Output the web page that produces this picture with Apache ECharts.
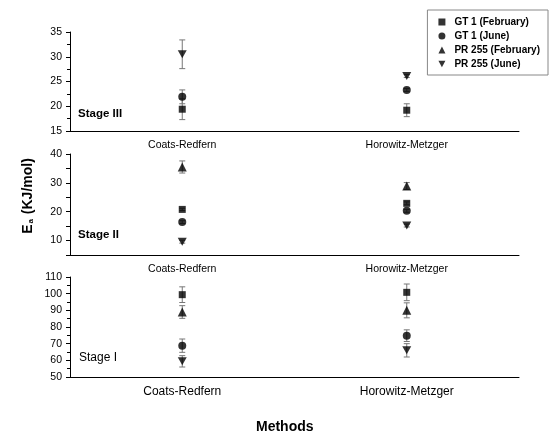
<!DOCTYPE html>
<html>
<head>
<meta charset="utf-8">
<script src="https://cdn.jsdelivr.net/npm/echarts@6/dist/echarts.min.js"></script>
<style>html,body{margin:0;padding:0;background:#fff}#c{width:555px;height:437px}</style>
</head>
<body>
<div id="c"></div>
<script>
// ---- data ----
var categories = ['Coats-Redfern', 'Horowitz-Metzger'];
var seriesNames = ['GT 1 (February)', 'GT 1 (June)', 'PR 255 (February)', 'PR 255 (June)'];
var stageLabels = ['Stage III', 'Stage II', 'Stage I'];

// Stage III (top panel)
var s3_gt1Feb = [19.4, 19.2];   var s3_gt1Feb_err = [2.1, 1.3];
var s3_gt1Jun = [21.9, 23.3];   var s3_gt1Jun_err = [1.4, 0.3];
var s3_pr255Feb = [null, null]; var s3_pr255Feb_err = [0, 0];
var s3_pr255Jun = [30.5, 26.1]; var s3_pr255Jun_err = [2.9, 0.3];

// Stage II (middle panel)
var s2_gt1Feb = [20.8, 22.9];   var s2_gt1Feb_err = [0.4, 0.5];
var s2_gt1Jun = [16.4, 20.3];   var s2_gt1Jun_err = [0.5, 0.5];
var s2_pr255Feb = [35.5, 28.9]; var s2_pr255Feb_err = [2.1, 1.2];
var s2_pr255Jun = [9.6, 15.2];  var s2_pr255Jun_err = [0.5, 0.5];

// Stage I (bottom panel)
var s1_gt1Feb = [99.4, 100.8];  var s1_gt1Feb_err = [4.7, 5.0];
var s1_gt1Jun = [68.8, 74.8];   var s1_gt1Jun_err = [4.0, 3.5];
var s1_pr255Feb = [89.0, 90.0]; var s1_pr255Feb_err = [3.8, 4.5];
var s1_pr255Jun = [59.4, 66.0]; var s1_pr255Jun_err = [3.4, 4.0];

// y-axis ranges / tick labels
var yMin = [15, 5, 50];
var yMax = [35, 40, 110];
var yInterval = [5, 5, 10];
var yLabelEvery = [5, 10, 10];

// ---- build ----
var panels = [
  {vals: [s3_gt1Feb, s3_gt1Jun, s3_pr255Feb, s3_pr255Jun], errs: [s3_gt1Feb_err, s3_gt1Jun_err, s3_pr255Feb_err, s3_pr255Jun_err]},
  {vals: [s2_gt1Feb, s2_gt1Jun, s2_pr255Feb, s2_pr255Jun], errs: [s2_gt1Feb_err, s2_gt1Jun_err, s2_pr255Feb_err, s2_pr255Jun_err]},
  {vals: [s1_gt1Feb, s1_gt1Jun, s1_pr255Feb, s1_pr255Jun], errs: [s1_gt1Feb_err, s1_gt1Jun_err, s1_pr255Feb_err, s1_pr255Jun_err]}
];
var symbols = ['rect', 'circle', 'triangle', 'path://M0,0 L10,0 L5,9 Z'];
var symbolSizes = [7, 8, 9, [9, 8]];
var FONT = 'Liberation Sans, Arial, sans-serif';

var grids = [
  {left: 70, right: 36, top: 32, height: 99},
  {left: 70, right: 36, top: 154, height: 101},
  {left: 70, right: 36, top: 277, height: 100}
];
var catFont = [10.5, 10.5, 12];

var xAxes = [], yAxes = [], series = [];
for (var p = 0; p < 3; p++) {
  xAxes.push({
    type: 'category', gridIndex: p, data: categories, boundaryGap: true,
    axisLine: {lineStyle: {color: '#000', width: 1}},
    axisTick: {alignWithLabel: true, length: 5, lineStyle: {color: '#000'}},
    axisLabel: {color: '#000', fontFamily: FONT, fontSize: catFont[p], margin: 9},
    splitLine: {show: false}
  });
  (function (p) {
    yAxes.push({
      type: 'value', gridIndex: p, min: yMin[p], max: yMax[p], interval: yInterval[p],
      axisLine: {show: true, lineStyle: {color: '#000', width: 1}},
      axisTick: {show: true, length: 4, lineStyle: {color: '#000'}},
      minorTick: {show: p !== 1, splitNumber: 2, length: 3, lineStyle: {color: '#000'}},
      axisLabel: {color: '#000', fontFamily: FONT, fontSize: 10.5, margin: 8,
        formatter: function (v) { return (v % yLabelEvery[p] === 0) ? String(v) : ''; }},
      splitLine: {show: false}
    });
  })(p);
  for (var s = 0; s < 4; s++) {
    var vals = panels[p].vals[s], errs = panels[p].errs[s];
    var errData = [];
    for (var i = 0; i < vals.length; i++) {
      if (vals[i] != null) errData.push([i, vals[i] - errs[i], vals[i] + errs[i]]);
    }
    series.push({
      type: 'custom', name: 'err' + p + s, xAxisIndex: p, yAxisIndex: p, z: 1,
      data: errData, silent: true,
      encode: {x: 0, y: [1, 2]},
      renderItem: function (params, api) {
        var lo = api.coord([api.value(0), api.value(1)]);
        var hi = api.coord([api.value(0), api.value(2)]);
        var w = 3;
        var st = {stroke: '#777', lineWidth: 1, fill: null};
        return {type: 'group', children: [
          {type: 'line', shape: {x1: lo[0], y1: lo[1], x2: hi[0], y2: hi[1]}, style: st},
          {type: 'line', shape: {x1: lo[0] - w, y1: lo[1], x2: lo[0] + w, y2: lo[1]}, style: st},
          {type: 'line', shape: {x1: hi[0] - w, y1: hi[1], x2: hi[0] + w, y2: hi[1]}, style: st}
        ]};
      }
    });
    series.push({
      type: 'scatter', name: seriesNames[s], xAxisIndex: p, yAxisIndex: p, z: 3,
      symbol: symbols[s], symbolSize: symbolSizes[s],
      itemStyle: {color: '#000'},
      data: vals.map(function (v, i) { return v == null ? null : [i, v]; })
    });
  }
}

var chart = echarts.init(document.getElementById('c'), null, {renderer: 'canvas'});
chart.setOption({
  animation: false,
  backgroundColor: '#fff',
  grid: grids,
  xAxis: xAxes,
  yAxis: yAxes,
  legend: {
    data: seriesNames.map(function (n, i) { return {name: n, icon: symbols[i]}; }),
    orient: 'vertical', right: 7, top: 10,
    borderColor: '#888', borderWidth: 1,
    padding: [7, 8, 6, 11],
    itemGap: 4, itemWidth: 7, itemHeight: 7,
    textStyle: {fontFamily: FONT, fontSize: 10, fontWeight: 'bold', color: '#000', padding: [0, 0, 0, 4]},
    selectedMode: false
  },
  graphic: [
    {type: 'text', left: 78, top: 108, style: {text: stageLabels[0], font: 'bold 11.5px ' + FONT, fill: '#000'}},
    {type: 'text', left: 78, top: 229, style: {text: stageLabels[1], font: 'bold 11.5px ' + FONT, fill: '#000'}},
    {type: 'text', left: 79, top: 352, style: {text: stageLabels[2], font: '12px ' + FONT, fill: '#000'}},
    {type: 'text', x: 256, y: 420, style: {text: 'Methods', font: 'bold 14px ' + FONT, fill: '#000'}},
    {type: 'text', x: 26, y: 196, rotation: Math.PI / 2,
      style: {
        text: '{b|E}{s|a}{b| (KJ/mol)}',
        align: 'center', verticalAlign: 'middle',
        rich: {
          b: {font: 'bold 14px ' + FONT, fill: '#000', verticalAlign: 'bottom', lineHeight: 18},
          s: {font: 'bold 8px ' + FONT, fill: '#000', verticalAlign: 'bottom', lineHeight: 6, padding: [0, 1, 0, 1]}
        }
      }}
  ],
  series: series
});
</script>
</body>
</html>
